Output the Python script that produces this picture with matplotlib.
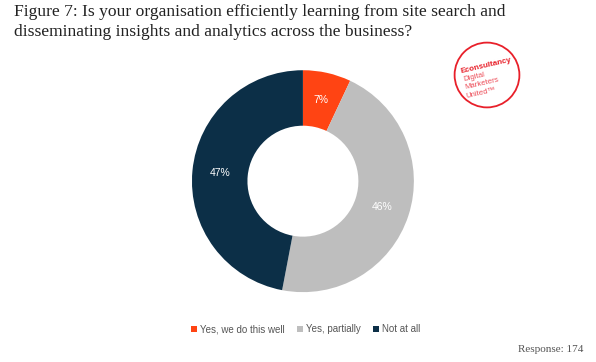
import matplotlib
matplotlib.use("Agg")
import matplotlib.pyplot as plt
from matplotlib.patches import Circle, Patch

labels = ["Yes, we do this well", "Yes, partially", "Not at all"]
values = [7, 46, 47]
colors = ["#FF4413", "#BEBEBE", "#0C2F47"]

title = ("Figure 7: Is your organisation efficiently learning from site search and\n"
         "disseminating insights and analytics across the business?")

fig = plt.figure(figsize=(5.96, 3.62), dpi=100)
fig.patch.set_facecolor("white")

fig.text(0.024, 0.99, title, ha="left", va="top", fontsize=12.6,
         family="Liberation Serif", color="#222222", linespacing=1.38)

# donut
ax = fig.add_axes([0.322, 0.193, 0.3725, 0.613])
wedges, texts, autotexts = ax.pie(
    values, colors=colors, startangle=90, counterclock=False,
    autopct="%d%%", pctdistance=0.75,
    wedgeprops=dict(width=0.5, edgecolor="none"),
    textprops=dict(color="white", fontsize=7.5, family="Liberation Sans"),
)
ax.set_xlim(-1, 1)
ax.set_ylim(-1, 1)
ax.set_aspect("equal")
ax.axis("off")

handles = [Patch(facecolor=c, edgecolor="none") for c in colors]
fig.legend(handles, labels, loc="center", bbox_to_anchor=(0.513, 0.091),
           ncol=3, frameon=False, handlelength=0.6,
           handleheight=0.6, handletextpad=0.3, columnspacing=1.3,
           labelcolor="#555555", prop=dict(family="Liberation Sans", size=7))

fig.text(0.978, 0.035, "Response: 174", ha="right", va="center",
         fontsize=8, family="Liberation Serif", color="#555555")

# logo stamp
lax = fig.add_axes([(487 - 36) / 596, 1 - (75 + 36) / 362, 72 / 596, 72 / 362])
lax.set_xlim(-1, 1)
lax.set_ylim(-1, 1)
lax.set_aspect("equal")
lax.axis("off")
lax.add_patch(Circle((0, 0), 0.9, fill=False, edgecolor="#E8202A", lw=1.3))
lax.text(-0.74, 0.1, "Econsultancy", rotation=13, fontsize=5.8, weight="bold",
         color="#E8202A", ha="left", va="center", rotation_mode="anchor",
         family="Liberation Sans")
for i, t in enumerate(["Digital", "Marketers", "United\u2122"]):
    lax.text(-0.66 + 0.04 * i, -0.13 - 0.23 * i, t, rotation=13, fontsize=5.6,
             color="#EC4A55", ha="left", va="center", rotation_mode="anchor",
             family="Liberation Sans")

fig.savefig("out.png", dpi=100)
